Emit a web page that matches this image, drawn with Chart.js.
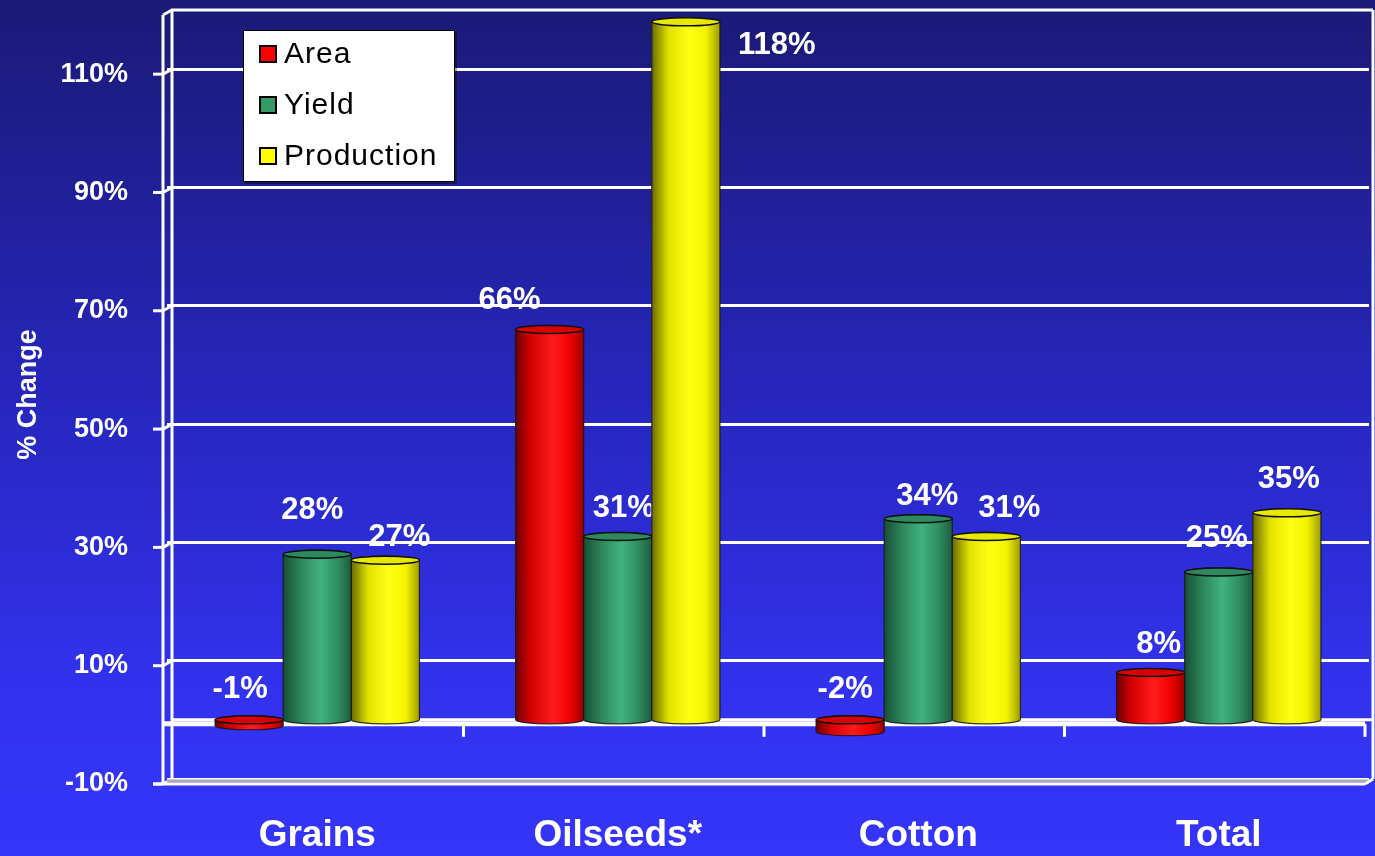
<!DOCTYPE html>
<html>
<head>
<meta charset="utf-8">
<title>% Change by crop</title>
<script src="https://cdn.jsdelivr.net/npm/chart.js@4.4.1/dist/chart.umd.min.js"></script>
<style>
  html, body { margin: 0; padding: 0; background: #1a1a78; overflow: hidden; }
  #wrap { width: 1375px; height: 856px; }
</style>
</head>
<body>
<div id="wrap"><canvas id="cropChart" width="1375" height="856"></canvas></div>
<script>
// ==============================
// CROP CHANGE CHART
// ==============================

const categories = ["Grains", "Oilseeds*", "Cotton", "Total"];
const seriesNames = ["Area", "Yield", "Production"];

const areaChange = [-1, 66, -2, 8];
const yieldChange = [28, 31, 34, 25];
const productionChange = [27, 118, 31, 35];

const yMin = -10;
const yMax = 120;
const yTickValues = [-10, 10, 30, 50, 70, 90, 110];

// ------------------------------
// STYLES
// ------------------------------

const FONT = "'Liberation Sans', Arial, Helvetica, sans-serif";

const flatColors = ["#ff0000", "#339966", "#ffff00"];

// shading across the cylinder, left edge -> right edge
const cylinderShades = [
  [[0, "#6a0000"], [0.22, "#d40000"], [0.55, "#ff1c1c"], [0.8, "#f00000"], [1, "#9a0000"]],
  [[0, "#174f35"], [0.25, "#2c8459"], [0.55, "#42b281"], [0.8, "#2f8d61"], [1, "#1c5c40"]],
  [[0, "#6a6a00"], [0.25, "#e2e200"], [0.55, "#ffff14"], [0.8, "#f2f200"], [1, "#9c9c00"]]
];

const capColors = ["#d80000", "#2e8a5e", "#e8e800"];

// where each value label sits relative to the top of its bar
const labelNudge = [
  [[-9, -30], [-40, -29], [-5, -30], [8, -28]],
  [[-5, -44], [6, -28], [9, -22], [-2, -34]],
  [[14, -23], [91, 24], [23, -28], [2, -33]]
];

// ------------------------------
// HELPERS
// ------------------------------

function strokeLine(ctx, x1, y1, x2, y2) {
  ctx.beginPath();
  ctx.moveTo(x1, y1);
  ctx.lineTo(x2, y2);
  ctx.stroke();
}

function formatPercent(value) {
  return `${value}%`;
}

// ------------------------------
// PLUGINS
// ------------------------------

const backdrop = {
  id: "backdrop",
  beforeDraw(chart) {
    const { ctx, width, height } = chart;
    const grad = ctx.createLinearGradient(0, 0, 0, height);
    grad.addColorStop(0, "#1a1a76");
    grad.addColorStop(0.45, "#2626bc");
    grad.addColorStop(0.8, "#3232ee");
    grad.addColorStop(1, "#3535fa");
    ctx.save();
    ctx.fillStyle = grad;
    ctx.fillRect(0, 0, width, height);
    ctx.restore();
  }
};

const frame = {
  id: "frame",
  beforeDatasetsDraw(chart) {
    const { ctx, chartArea: a, scales } = chart;
    const y = scales.y;
    const zero = y.getPixelForValue(0);
    const catWidth = (a.right - a.left) / categories.length;

    ctx.save();
    ctx.strokeStyle = "#ffffff";
    ctx.lineWidth = 3;

    // back wall outline
    strokeLine(ctx, a.left + 4, a.top, a.right + 4, a.top);
    strokeLine(ctx, a.right + 4, a.top, a.right + 4, a.bottom);

    // left wall, back and front edges
    strokeLine(ctx, a.left + 5, a.top, a.left + 5, a.bottom);
    strokeLine(ctx, a.left - 4, a.top + 5, a.left - 4, a.bottom + 5);
    strokeLine(ctx, a.left - 4, a.top + 5, a.left + 5, a.top);

    // front tick marks on the value axis
    y.ticks.forEach((tick) => {
      const py = y.getPixelForValue(tick.value);
      strokeLine(ctx, a.left - 14, py + 5, a.left - 4, py + 5);
      strokeLine(ctx, a.left - 4, py + 5, a.left + 5, py);
    });

    // floor
    ctx.strokeStyle = "#a8a8b8";
    ctx.lineWidth = 3;
    strokeLine(ctx, a.left, a.bottom + 2, a.right, a.bottom + 2);
    ctx.strokeStyle = "#ffffff";
    strokeLine(ctx, a.left - 14, a.bottom + 5, a.right - 4, a.bottom + 5);
    strokeLine(ctx, a.right - 4, a.bottom + 5, a.right + 4, a.bottom);

    // zero plane
    ctx.lineWidth = 3;
    strokeLine(ctx, a.left + 5, zero, a.right + 4, zero);
    ctx.lineWidth = 5;
    strokeLine(ctx, a.left - 4, zero + 4, a.right - 4, zero + 4);

    // category separators
    ctx.lineWidth = 3;
    for (let k = 1; k <= categories.length; k++) {
      const px = a.left + catWidth * k - 4;
      strokeLine(ctx, px, zero + 4, px, zero + 17);
    }

    ctx.restore();
  }
};

const cylinders = {
  id: "cylinders",
  afterDatasetsDraw(chart) {
    const { ctx } = chart;
    const ry = 4;

    ctx.save();
    chart.data.datasets.forEach((dataset, d) => {
      const meta = chart.getDatasetMeta(d);
      meta.data.forEach((bar, i) => {
        const { x, y, base, width } = bar.getProps(["x", "y", "base", "width"], true);
        const rx = width / 2;
        const left = x - rx;
        const right = x + rx;
        const top = Math.min(y, base);
        const bottom = Math.max(y, base);

        const grad = ctx.createLinearGradient(left, 0, right, 0);
        cylinderShades[d].forEach(([stop, color]) => grad.addColorStop(stop, color));

        ctx.beginPath();
        ctx.moveTo(left, top);
        ctx.lineTo(left, bottom);
        ctx.ellipse(x, bottom, rx, ry, 0, Math.PI, 0, true);
        ctx.lineTo(right, top);
        ctx.ellipse(x, top, rx, ry, 0, 0, Math.PI, true);
        ctx.closePath();
        ctx.fillStyle = grad;
        ctx.fill();
        ctx.strokeStyle = "rgba(20, 20, 20, 0.85)";
        ctx.lineWidth = 1.2;
        ctx.stroke();

        ctx.beginPath();
        ctx.ellipse(x, top, rx, ry, 0, 0, Math.PI * 2);
        ctx.fillStyle = capColors[d];
        ctx.fill();
        ctx.strokeStyle = "#111111";
        ctx.lineWidth = 1.5;
        ctx.stroke();

        // value label
        const value = dataset.data[i];
        const [dx, dy] = labelNudge[d][i];
        ctx.fillStyle = "#ffffff";
        ctx.font = `bold 31px ${FONT}`;
        ctx.textAlign = "center";
        ctx.textBaseline = "middle";
        ctx.fillText(formatPercent(value), x + dx, top + dy);
      });
    });
    ctx.restore();
  }
};

const boxLegend = {
  id: "boxLegend",
  afterDraw(chart) {
    const { ctx } = chart;
    const box = { x: 243, y: 30, w: 212, h: 152 };
    const rowGap = 51;

    ctx.save();
    ctx.fillStyle = "rgba(0, 0, 0, 0.35)";
    ctx.fillRect(box.x + 2, box.y + 2, box.w, box.h);
    ctx.fillStyle = "#ffffff";
    ctx.fillRect(box.x, box.y, box.w, box.h);
    ctx.strokeStyle = "#000000";
    ctx.lineWidth = 1;
    ctx.strokeRect(box.x + 0.5, box.y + 0.5, box.w - 1, box.h - 1);

    chart.data.datasets.forEach((dataset, d) => {
      const cy = box.y + 24 + rowGap * d;
      ctx.fillStyle = dataset.backgroundColor;
      ctx.fillRect(box.x + 17, cy - 8, 16, 16);
      ctx.lineWidth = 2;
      ctx.strokeStyle = "#000000";
      ctx.strokeRect(box.x + 17, cy - 8, 16, 16);

      ctx.fillStyle = "#000000";
      ctx.font = `30px ${FONT}`;
      ctx.letterSpacing = "1px";
      ctx.textAlign = "left";
      ctx.textBaseline = "middle";
      ctx.fillText(dataset.label, box.x + 41, cy + 1);
    });
    ctx.restore();
  }
};

// ------------------------------
// CHART
// ------------------------------

function buildDatasets() {
  const values = [areaChange, yieldChange, productionChange];
  return seriesNames.map((name, d) => ({
    label: name,
    data: values[d],
    backgroundColor: flatColors[d],
    borderWidth: 0,
    categoryPercentage: 0.68,
    barPercentage: 1.0
  }));
}

function renderCropChart() {
  const canvas = document.getElementById("cropChart");
  const ctx = canvas.getContext("2d");

  new Chart(ctx, {
    type: "bar",
    data: {
      labels: categories,
      datasets: buildDatasets()
    },
    plugins: [backdrop, frame, cylinders, boxLegend],
    options: {
      responsive: false,
      animation: false,
      devicePixelRatio: 1,
      layout: {
        padding: { top: 10, right: 6, left: 0, bottom: 0 }
      },
      plugins: {
        legend: { display: false },
        tooltip: { enabled: false }
      },
      scales: {
        x: {
          grid: { display: false, drawTicks: false },
          border: { display: false },
          ticks: {
            color: "#ffffff",
            padding: 35,
            font: { family: FONT, size: 37, weight: "bold" }
          },
          afterFit(scale) {
            scale.height = 77;
            scale.paddingLeft = 0;
            scale.paddingRight = 0;
          }
        },
        y: {
          min: yMin,
          max: yMax,
          border: { display: false },
          grid: {
            color: "#ffffff",
            lineWidth: 3,
            drawTicks: false
          },
          ticks: {
            color: "#ffffff",
            padding: 39,
            labelOffset: 5,
            font: { family: FONT, size: 27, weight: "bold" },
            callback(value) {
              return formatPercent(value);
            }
          },
          afterBuildTicks(scale) {
            scale.ticks = yTickValues.map((value) => ({ value }));
          },
          title: {
            display: true,
            text: "% Change",
            color: "#ffffff",
            padding: { top: 12, bottom: 0 },
            font: { family: FONT, size: 27, weight: "bold" }
          },
          afterFit(scale) {
            scale.width = 167;
            scale.paddingTop = 0;
            scale.paddingBottom = 0;
          }
        }
      }
    }
  });
}

document.addEventListener("DOMContentLoaded", renderCropChart);
</script>
</body>
</html>
